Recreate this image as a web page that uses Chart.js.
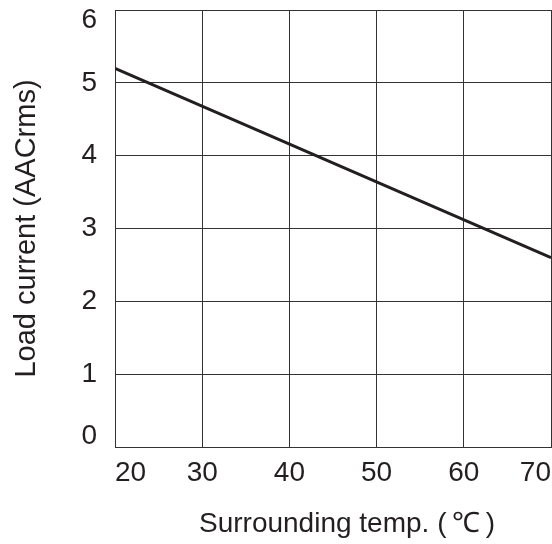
<!DOCTYPE html>
<html>
<head>
<meta charset="utf-8">
<script src="https://cdn.jsdelivr.net/npm/chart.js@4"></script>
<style>
html,body{margin:0;padding:0;background:#fff;}
#wrap{width:552px;height:544px;}
</style>
</head>
<body>
<div id="wrap"><canvas id="c" width="552" height="544"></canvas></div>
<script>
const temps = [20, 70];
const loadCurrent = [5.2, 2.6];
const xTicks = [20, 30, 40, 50, 60, 70];
const yTicks = [0, 1, 2, 3, 4, 5, 6];
const xTitle = '\u2003Surrounding temp. (\u2009℃\u2009)';
const yTitle = 'Load current (AACrms)';

const ink = '#231f20';
const fam = '"Liberation Sans", Arial, Helvetica, sans-serif';
const fs = 28;

new Chart(document.getElementById('c'), {
  type: 'line',
  data: {
    datasets: [{
      data: temps.map((t, i) => ({x: t, y: loadCurrent[i]})),
      borderColor: ink,
      borderWidth: 3,
      pointRadius: 0,
      tension: 0,
      fill: false
    }]
  },
  options: {
    responsive: false,
    animation: false,
    devicePixelRatio: 1,
    layout: {padding: {top: 10, right: 1, left: 0, bottom: 0}},
    plugins: {legend: {display: false}, tooltip: {enabled: false}},
    scales: {
      x: {
        type: 'linear',
        min: xTicks[0],
        max: xTicks[xTicks.length - 1],
        afterBuildTicks: s => { s.ticks = xTicks.map(v => ({value: v})); },
        afterFit: s => { s.height = 97; s.paddingLeft = 0; s.paddingRight = 0; },
        grid: {color: '#333', lineWidth: 1, drawTicks: false},
        border: {display: true, color: '#333', width: 1},
        ticks: {
          align: 'inner',
          padding: 9,
          color: ink,
          font: {family: fam, size: fs},
          maxRotation: 0
        },
        title: {
          display: true,
          text: xTitle,
          color: ink,
          font: {family: fam, size: fs},
          padding: {top: 0, bottom: 3}
        }
      },
      y: {
        type: 'linear',
        min: yTicks[0],
        max: yTicks[yTicks.length - 1],
        afterBuildTicks: s => { s.ticks = yTicks.map(v => ({value: v})); },
        afterFit: s => { s.width = 115; s.paddingTop = 0; s.paddingBottom = 0; },
        grid: {color: '#333', lineWidth: 1, drawTicks: false},
        border: {display: true, color: '#333', width: 1},
        ticks: {
          padding: 18,
          color: ink,
          font: {family: fam, size: fs, lineHeight: 0.75},
          callback: (v, i, arr) => {
            const s = String(v);
            if (i === arr.length - 1) return ['', s];
            if (i === 0) return [s, ''];
            return s;
          }
        },
        title: {
          display: true,
          text: yTitle,
          color: ink,
          font: {family: fam, size: 29},
          padding: {top: 10, bottom: 0}
        }
      }
    }
  }
});
</script>
</body>
</html>
